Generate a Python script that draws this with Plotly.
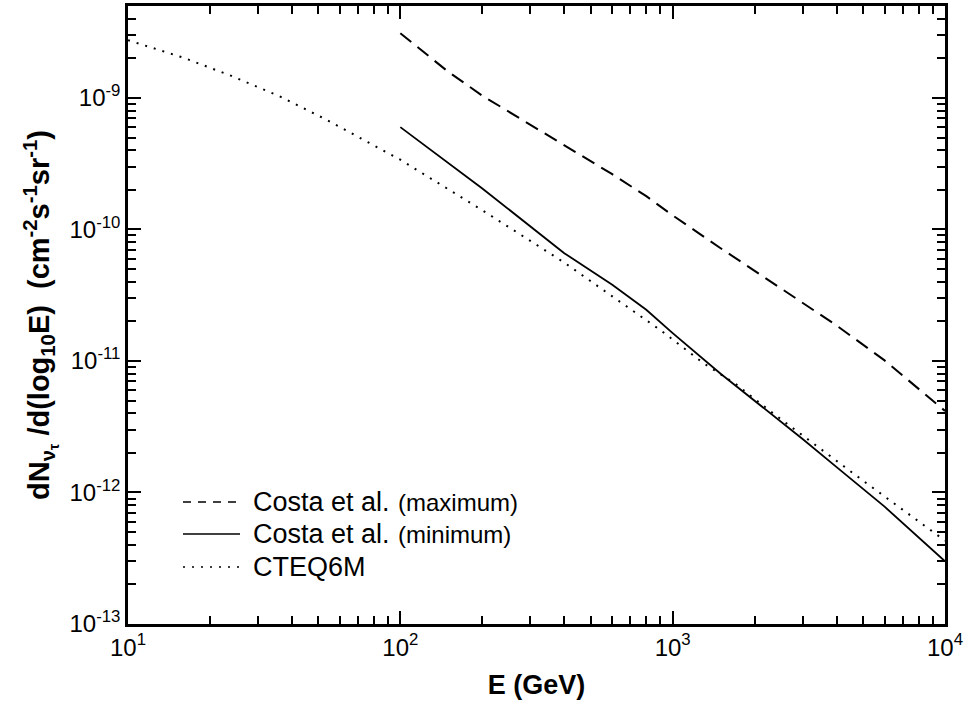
import plotly.graph_objects as go

# ---------------- data ----------------
E_max = [100, 150, 200, 300, 400, 600, 800, 1000, 1500, 2000, 3000, 4000, 6000, 10000]
flux_max = [3.1e-9, 1.58e-9, 1.04e-9, 6.25e-10, 4.4e-10, 2.63e-10, 1.79e-10, 1.28e-10,
            7.2e-11, 4.84e-11, 2.78e-11, 1.86e-11, 1.01e-11, 4.17e-12]

E_min = [100, 200, 400, 600, 800, 1000, 1500, 2000, 3000, 4000, 6000, 10000]
flux_min = [6.0e-10, 2.05e-10, 6.6e-11, 3.8e-11, 2.45e-11, 1.63e-11, 8.0e-12, 5.0e-12,
            2.55e-12, 1.56e-12, 7.8e-13, 3.0e-13]

E_cteq = [10, 13, 16, 24, 36, 53, 78, 100, 200, 400, 600, 900, 1300, 1700, 2300, 3200, 5000, 10000]
flux_cteq = [2.75e-9, 2.33e-9, 2.02e-9, 1.47e-9, 1.03e-9, 6.9e-10, 4.5e-10, 3.39e-10, 1.4e-10,
             5.6e-11, 3.1e-11, 1.72e-11, 9.6e-12, 6.7e-12, 4.1e-12, 2.45e-12, 1.23e-12, 4.3e-13]

x_tickvals = [10, 100, 1000, 10000]
x_ticktext = ["10<sup>1</sup>", "10<sup>2</sup>", "10<sup>3</sup>", "10<sup>4</sup>"]
y_tickvals = [1e-13, 1e-12, 1e-11, 1e-10, 1e-9]
y_ticktext = ["10<sup>-13</sup>", "10<sup>-12</sup>", "10<sup>-11</sup>", "10<sup>-10</sup>", "10<sup>-9</sup>"]

legend_main = ["Costa et al.", "Costa et al.", "CTEQ6M"]
legend_note = ["(maximum)", "(minimum)", ""]

# ---------------- figure ----------------
FONT = "Liberation Sans, Arial, sans-serif"
W, H = 968, 707
L, R, T, B = 128, 23, 6, 83
PW, PH = W - L - R, H - T - B

DASH = "14px,8px"
DOT = "2px,7px"

fig = go.Figure()
fig.add_trace(go.Scatter(x=E_max, y=flux_max, mode="lines",
                         line=dict(color="black", width=2, dash=DASH), name="max"))
fig.add_trace(go.Scatter(x=E_min, y=flux_min, mode="lines",
                         line=dict(color="black", width=1.8), name="min"))
fig.add_trace(go.Scatter(x=E_cteq, y=flux_cteq, mode="lines",
                         line=dict(color="black", width=2, dash=DOT), name="CTEQ6M"))

fig.update_layout(
    width=W, height=H,
    margin=dict(l=L, r=R, t=T, b=B, autoexpand=False),
    plot_bgcolor="white",
    showlegend=False,
    xaxis=dict(type="log", range=[1, 4],
               tickmode="array", tickvals=x_tickvals, ticktext=x_ticktext,
               showline=True, linewidth=2.5, linecolor="black", mirror="ticks",
               ticks="inside", ticklen=13, tickwidth=2, tickcolor="black",
               minor=dict(dtick="D1", ticks="inside", ticklen=8, tickwidth=2, tickcolor="black"),
               tickfont=dict(family=FONT, size=24, color="black"),
               title=dict(text="<b>E (GeV)</b>", font=dict(family=FONT, size=27, color="black"),
                          standoff=16)),
    yaxis=dict(type="log", range=[-13, -8.301],
               tickmode="array", tickvals=y_tickvals, ticktext=y_ticktext,
               showline=True, linewidth=2.5, linecolor="black", mirror="ticks",
               ticks="inside", ticklen=13, tickwidth=2, tickcolor="black",
               minor=dict(dtick="D1", ticks="inside", ticklen=8, tickwidth=2, tickcolor="black"),
               tickfont=dict(family=FONT, size=24, color="black"),
               title=dict(text="<b>dN<sub>ν<sub>τ</sub></sub> /d(log<sub>10</sub>E)  "
                               "(cm<sup>-2</sup>s<sup>-1</sup>sr<sup>-1</sup>)</b>",
                          font=dict(family=FONT, size=29, color="black"), standoff=12)),
)

# manual legend (longer line samples than plotly's built-in legend)
leg_y = [502, 534, 567]
leg_dash = ["8px,7px", "solid", DOT]
for i in range(3):
    yp = 1 - (leg_y[i] - T) / PH
    fig.add_shape(type="line", xref="paper", yref="paper",
                  x0=(183 - L) / PW, x1=(240 - L) / PW, y0=yp, y1=yp,
                  line=dict(color="black", width=1.6, dash=leg_dash[i]))
    fig.add_annotation(xref="paper", yref="paper", x=(251 - L) / PW, y=yp,
                       xanchor="left", yanchor="middle", showarrow=False,
                       text=legend_main[i], font=dict(family=FONT, size=27, color="black"))
    if legend_note[i]:
        fig.add_annotation(xref="paper", yref="paper", x=(396 - L) / PW, y=yp,
                           xanchor="left", yanchor="middle", showarrow=False,
                           text=legend_note[i], font=dict(family=FONT, size=24, color="black"))

fig.write_html("out.html")
